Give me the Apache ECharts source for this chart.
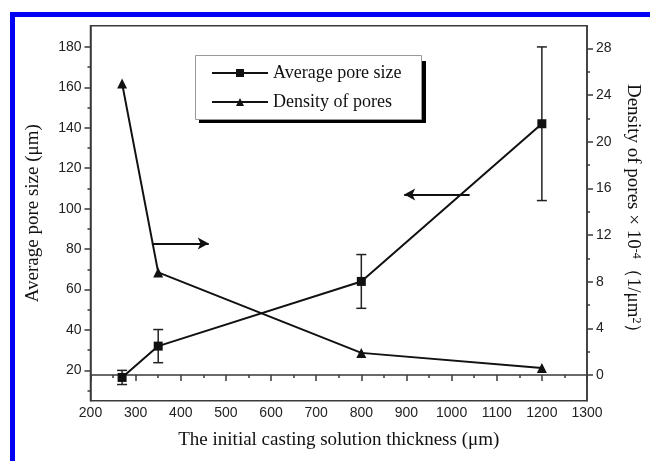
<!DOCTYPE html>
<html>
<head>
<meta charset="utf-8">
<script src="https://cdn.jsdelivr.net/npm/echarts@6/dist/echarts.min.js"></script>
<style>
  html, body { margin: 0; padding: 0; background: #fff; }
  #chart { width: 650px; height: 461px; }
</style>
</head>
<body>
<div id="chart"></div>
<script>
// values
var thickness = [270, 350, 800, 1200];
var poreSize = [16.5, 32, 64, 142];
var poreSizeErr = [3.5, 8.2, 13.3, 38];
var poreDensity = [25, 8.8, 1.9, 0.6];

var xTicks = [200, 300, 400, 500, 600, 700, 800, 900, 1000, 1100, 1200, 1300];
var leftTicks = [20, 40, 60, 80, 100, 120, 140, 160, 180];
var leftMinor = [10, 30, 50, 70, 90, 110, 130, 150, 170];
var rightTicks = [0, 4, 8, 12, 16, 20, 24, 28];
var rightMinor = [2, 6, 10, 14, 18, 22, 26];

// arrows pointing at the axis each curve belongs to
var arrowRight = [[336, 82.7], [462, 82.7]];
var arrowLeft = [[1040, 107], [895, 107]];

var serif = 'Liberation Serif';
var sans = 'Liberation Sans';
var axisCol = '#3a3a3a';

var errData = thickness.map(function(x, i){
    return [x, poreSize[i] - poreSizeErr[i], poreSize[i] + poreSizeErr[i]];
});

var chart = echarts.init(document.getElementById('chart'));

var plain = function(v){ return String(v); };

var option = {
    animation: false,
    backgroundColor: '#fff',
    grid: {
        left: 90.5, right: 57, top: 25.7, bottom: 60.3,
        show: true, borderColor: axisCol, borderWidth: 1.5, containLabel: false
    },
    legend: {
        data: ['Average pore size', 'Density of pores'],
        orient: 'vertical',
        left: 195, top: 55,
        padding: [9, 12, 11, 16],
        itemGap: 11,
        itemWidth: 56, itemHeight: 10,
        itemTextGap: 5,
        textStyle: {fontFamily: serif, fontSize: 18, color: '#111'},
        z: 10
    },
    graphic: [{
        // legend frame with its hard shadow
        type: 'rect', z: 5, silent: true,
        shape: {x: 199, y: 61, width: 227, height: 62},
        style: {fill: '#000'}
    }, {
        type: 'rect', z: 6, silent: true,
        shape: {x: 195.5, y: 55.5, width: 226, height: 64},
        style: {fill: '#fff', stroke: '#999', lineWidth: 1}
    }, {
        type: 'rect', z: 100, silent: true,
        shape: {x: 12.5, y: 14.5, width: 700, height: 500},
        style: {fill: 'none', stroke: '#0000f5', lineWidth: 5}
    }],
    xAxis: {
        type: 'value', min: 200, max: 1300, interval: 100,
        name: 'The initial casting solution thickness (μm)',
        nameLocation: 'middle', nameGap: 30,
        nameTextStyle: {fontFamily: serif, fontSize: 19, color: '#111'},
        axisLine: {lineStyle: {color: axisCol, width: 1.5}},
        axisTick: {show: true, length: 6, lineStyle: {color: axisCol, width: 1.5}},
        minorTick: {show: true, splitNumber: 2, length: 3, lineStyle: {color: axisCol, width: 1.5}},
        axisLabel: {fontFamily: sans, fontSize: 14, color: '#222', margin: 5,
            customValues: xTicks, formatter: plain},
        splitLine: {show: false}
    },
    yAxis: [{
        type: 'value', position: 'left', min: 5, max: 190.5,
        name: 'Average pore size (μm)',
        nameLocation: 'middle', nameGap: 48, nameRotate: 90,
        nameTextStyle: {fontFamily: serif, fontSize: 19, color: '#111'},
        axisLine: {show: true, lineStyle: {color: axisCol, width: 1.5}},
        axisTick: {show: true, length: 6, customValues: leftTicks, lineStyle: {color: axisCol, width: 1.5}},
        axisLabel: {fontFamily: sans, fontSize: 14, color: '#222', margin: 9, customValues: leftTicks},
        splitLine: {show: false}
    }, {
        type: 'value', position: 'right', min: -2.2, max: 29.95,
        name: 'Density of pores × 10{sup|-4}（1/μm{sup|2}）',
        nameLocation: 'middle', nameGap: 36, nameRotate: -90,
        nameTextStyle: {fontFamily: serif, fontSize: 19, color: '#111',
            rich: {sup: {fontFamily: serif, fontSize: 12, verticalAlign: 'top', lineHeight: 12, color: '#111'}}},
        axisLine: {show: true, lineStyle: {color: axisCol, width: 1.5}},
        axisTick: {show: true, length: 6, customValues: rightTicks, lineStyle: {color: axisCol, width: 1.5}},
        axisLabel: {fontFamily: sans, fontSize: 14, color: '#222', margin: 9, customValues: rightTicks},
        splitLine: {show: false}
    }, {
        // minor ticks, left
        type: 'value', position: 'left', min: 5, max: 190.5,
        axisLine: {show: false},
        axisTick: {show: true, length: 3, customValues: leftMinor, lineStyle: {color: axisCol, width: 1.5}},
        axisLabel: {show: false},
        splitLine: {show: false}
    }, {
        // minor ticks, right
        type: 'value', position: 'right', min: -2.2, max: 29.95,
        axisLine: {show: false},
        axisTick: {show: true, length: 3, customValues: rightMinor, lineStyle: {color: axisCol, width: 1.5}},
        axisLabel: {show: false},
        splitLine: {show: false}
    }],
    series: [{
        name: 'Average pore size',
        type: 'line', yAxisIndex: 0,
        data: thickness.map(function(x, i){ return [x, poreSize[i]]; }),
        symbol: 'rect', symbolSize: 9,
        itemStyle: {color: '#111'},
        lineStyle: {color: '#111', width: 2},
        markLine: {
            silent: true,
            symbol: ['none', 'arrow'], symbolSize: [9, 11],
            label: {show: false},
            lineStyle: {color: '#111', width: 2, type: 'solid'},
            data: [
                [{coord: arrowRight[0]}, {coord: arrowRight[1]}],
                [{coord: arrowLeft[0]}, {coord: arrowLeft[1]}]
            ]
        },
        z: 3
    }, {
        name: 'Density of pores',
        type: 'line', yAxisIndex: 1,
        data: thickness.map(function(x, i){ return [x, poreDensity[i]]; }),
        symbol: 'triangle', symbolSize: 10,
        itemStyle: {color: '#111'},
        lineStyle: {color: '#111', width: 2},
        z: 3
    }, {
        name: 'err',
        type: 'custom', yAxisIndex: 0,
        data: errData,
        renderItem: function(params, api){
            var lo = api.coord([api.value(0), api.value(1)]);
            var hi = api.coord([api.value(0), api.value(2)]);
            var w = 5;
            var st = {stroke: '#222', lineWidth: 1.5};
            return {type: 'group', children: [
                {type: 'line', shape: {x1: hi[0], y1: hi[1], x2: lo[0], y2: lo[1]}, style: st},
                {type: 'line', shape: {x1: hi[0]-w, y1: hi[1], x2: hi[0]+w, y2: hi[1]}, style: st},
                {type: 'line', shape: {x1: lo[0]-w, y1: lo[1], x2: lo[0]+w, y2: lo[1]}, style: st}
            ]};
        },
        z: 2
    }]
};

chart.setOption(option);
</script>
</body>
</html>
